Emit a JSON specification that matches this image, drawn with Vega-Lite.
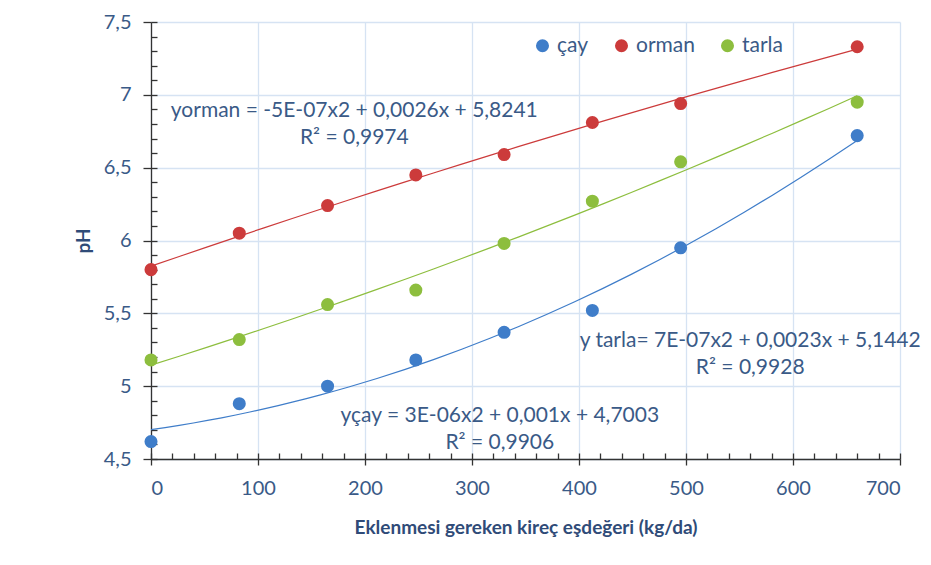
{
  "$schema": "https://vega.github.io/schema/vega-lite/v6.json",
  "width": 749,
  "height": 437,
  "autosize": {"type": "none"},
  "padding": {"left": 151, "top": 22, "right": 31, "bottom": 106},
  "background": "white",
  "config": {"view": {"stroke": null}, "font": "Lato"},
  "data": {
    "values": [
      {"doz": 0, "pH": 4.62, "seri": "çay"},
      {"doz": 82.5, "pH": 4.88, "seri": "çay"},
      {"doz": 165, "pH": 5.0, "seri": "çay"},
      {"doz": 247.5, "pH": 5.18, "seri": "çay"},
      {"doz": 330, "pH": 5.37, "seri": "çay"},
      {"doz": 412.5, "pH": 5.52, "seri": "çay"},
      {"doz": 495, "pH": 5.95, "seri": "çay"},
      {"doz": 660, "pH": 6.72, "seri": "çay"},
      {"doz": 0, "pH": 5.8, "seri": "orman"},
      {"doz": 82.5, "pH": 6.05, "seri": "orman"},
      {"doz": 165, "pH": 6.24, "seri": "orman"},
      {"doz": 247.5, "pH": 6.45, "seri": "orman"},
      {"doz": 330, "pH": 6.59, "seri": "orman"},
      {"doz": 412.5, "pH": 6.81, "seri": "orman"},
      {"doz": 495, "pH": 6.94, "seri": "orman"},
      {"doz": 660, "pH": 7.33, "seri": "orman"},
      {"doz": 0, "pH": 5.18, "seri": "tarla"},
      {"doz": 82.5, "pH": 5.32, "seri": "tarla"},
      {"doz": 165, "pH": 5.56, "seri": "tarla"},
      {"doz": 247.5, "pH": 5.66, "seri": "tarla"},
      {"doz": 330, "pH": 5.98, "seri": "tarla"},
      {"doz": 412.5, "pH": 6.27, "seri": "tarla"},
      {"doz": 495, "pH": 6.54, "seri": "tarla"},
      {"doz": 660, "pH": 6.95, "seri": "tarla"}
    ]
  },
  "layer": [
    {
      "transform": [
        {"regression": "pH", "on": "doz", "groupby": ["seri"], "method": "poly", "order": 2, "extent": [0, 660]}
      ],
      "mark": {"type": "line", "strokeWidth": 1.2},
      "encoding": {
        "x": {"field": "doz", "type": "quantitative", "scale": {"domain": [0, 700], "nice": false}, "axis": null},
        "y": {"field": "pH", "type": "quantitative", "scale": {"domain": [4.5, 7.5], "nice": false, "zero": false}, "axis": null},
        "color": {"field": "seri", "type": "nominal",
          "scale": {"domain": ["çay", "orman", "tarla"], "range": ["#3F7DC9", "#CC3B3B", "#8DBE3E"]},
          "legend": {"title": null, "orient": "none", "legendX": 381, "legendY": 13, "direction": "horizontal",
            "symbolType": "circle", "symbolSize": 170, "symbolStrokeWidth": 0, "labelFontSize": 21, "labelColor": "#3A5A87",
            "labelFont": "Lato", "labelOffset": 4, "columnPadding": 22, "padding": 0, "symbolOpacity": 1}}
      }
    },
    {
      "mark": {"type": "circle", "size": 170, "opacity": 1},
      "encoding": {
        "x": {"field": "doz", "type": "quantitative",
          "title": "Eklenmesi gereken kireç eşdeğeri (kg/da)",
          "axis": {"values": [0, 100, 200, 300, 400, 500, 600, 700], "grid": true, "gridColor": "#D6E3F3", "gridWidth": 1.3,
            "domainColor": "#333333", "domainWidth": 1.3, "tickColor": "#333333", "tickWidth": 1.3, "tickSize": 6,
            "labelFontSize": 20, "labelColor": "#3A5A87", "labelPadding": 13, "labelFont": "Lato",
            "titleFontSize": 19, "titleFontWeight": "bold", "titleColor": "#2F4B78", "titlePadding": 20, "titleFont": "Lato"}},
        "y": {"field": "pH", "type": "quantitative", "title": "pH",
          "axis": {"values": [4.5, 5, 5.5, 6, 6.5, 7, 7.5], "grid": true, "gridColor": "#D6E3F3", "gridWidth": 1.3,
            "labelExpr": "replace(format(datum.value, '~g'), '.', ',')",
            "domainColor": "#333333", "domainWidth": 1.3, "tickColor": "#333333", "tickWidth": 1.3, "tickSize": 8,
            "labelFontSize": 20, "labelColor": "#3A5A87", "labelPadding": 12, "labelFont": "Lato",
            "titleFontSize": 19, "titleFontWeight": "bold", "titleColor": "#2F4B78", "titlePadding": 10, "titleFont": "Lato"}},
        "color": {"field": "seri", "type": "nominal",
          "scale": {"domain": ["çay", "orman", "tarla"], "range": ["#3F7DC9", "#CC3B3B", "#8DBE3E"]},
          "legend": {"title": null, "orient": "none", "legendX": 381, "legendY": 13, "direction": "horizontal",
            "symbolType": "circle", "symbolSize": 170, "symbolStrokeWidth": 0, "labelFontSize": 21, "labelColor": "#3A5A87",
            "labelFont": "Lato", "labelOffset": 4, "columnPadding": 22, "padding": 0, "symbolOpacity": 1}}
      }
    },
    {
      "mark": {"type": "point", "opacity": 0},
      "encoding": {
        "x": {"field": "doz", "type": "quantitative",
          "axis": {"orient": "bottom", "title": null, "labels": false, "grid": false, "domain": false, "offset": -6,
            "values": [0,20,40,60,80,100,120,140,160,180,200,220,240,260,280,300,320,340,360,380,400,420,440,460,480,500,520,540,560,580,600,620,640,660,680,700],
            "tickSize": 6, "tickColor": "#333333", "tickWidth": 1.3}},
        "y": {"field": "pH", "type": "quantitative",
          "axis": {"orient": "left", "title": null, "labels": false, "grid": false, "domain": false, "offset": -6,
            "values": [4.5,4.6,4.7,4.8,4.9,5,5.1,5.2,5.3,5.4,5.5,5.6,5.7,5.8,5.9,6,6.1,6.2,6.3,6.4,6.5,6.6,6.7,6.8,6.9,7,7.1,7.2,7.3,7.4,7.5],
            "tickSize": 6, "tickColor": "#333333", "tickWidth": 1.3}}
      }
    },
    {
      "data": {"values": [{}]},
      "mark": {"type": "text", "align": "center", "baseline": "middle", "fontSize": 21, "lineHeight": 27, "color": "#3A5A87", "font": "Lato"},
      "encoding": {
        "x": {"datum": 190, "type": "quantitative", "axis": null},
        "y": {"datum": 6.886, "type": "quantitative", "axis": null},
        "text": {"value": ["yorman = -5E-07x2 + 0,0026x + 5,8241", "R² = 0,9974"]}
      }
    },
    {
      "data": {"values": [{}]},
      "mark": {"type": "text", "align": "center", "baseline": "middle", "fontSize": 21, "lineHeight": 27, "color": "#3A5A87", "font": "Lato"},
      "encoding": {
        "x": {"datum": 326, "type": "quantitative", "axis": null},
        "y": {"datum": 4.792, "type": "quantitative", "axis": null},
        "text": {"value": ["yçay = 3E-06x2 + 0,001x + 4,7003", "R² = 0,9906"]}
      }
    },
    {
      "data": {"values": [{}]},
      "mark": {"type": "text", "align": "center", "baseline": "middle", "fontSize": 21, "lineHeight": 27, "color": "#3A5A87", "font": "Lato"},
      "encoding": {
        "x": {"datum": 560, "type": "quantitative", "axis": null},
        "y": {"datum": 5.31, "type": "quantitative", "axis": null},
        "text": {"value": ["y tarla= 7E-07x2 + 0,0023x + 5,1442", "R² = 0,9928"]}
      }
    }
  ],
  "resolve": {"axis": {"x": "independent", "y": "independent"}}
}
